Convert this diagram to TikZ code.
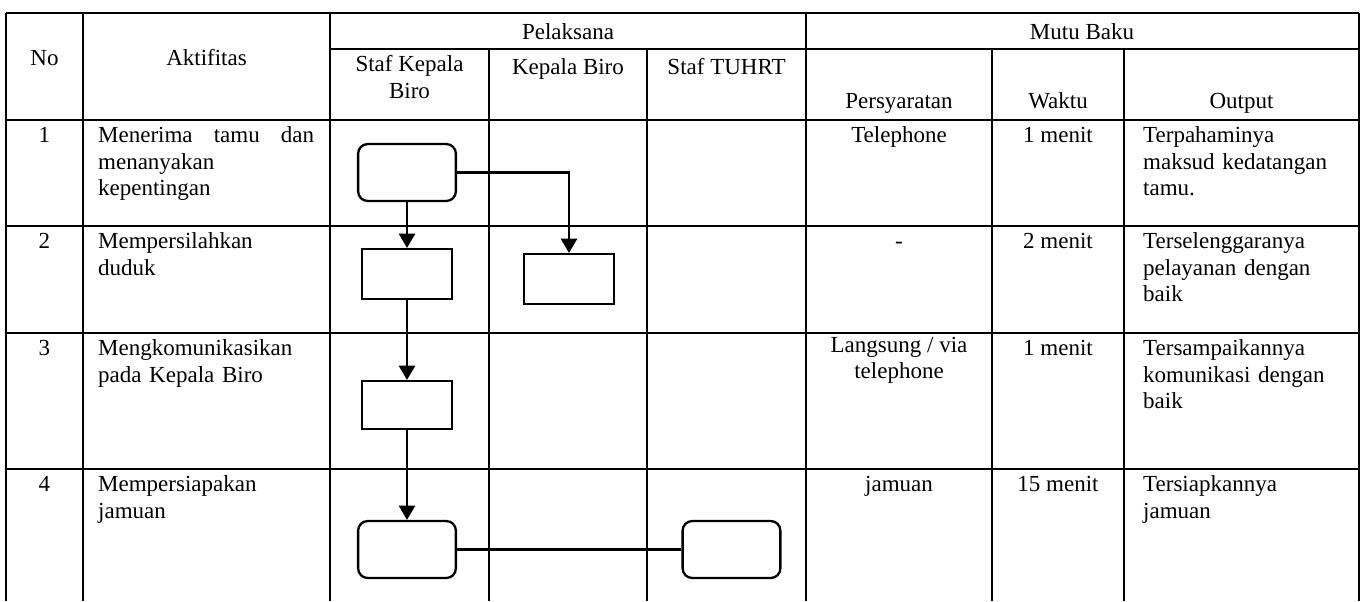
\documentclass[tikz,border=0pt]{standalone}
\usepackage{fontspec}
\setmainfont{Liberation Serif}
\usetikzlibrary{arrows.meta}

\begin{document}
\begin{tikzpicture}[x=0.5217pt,y=-0.5217pt,>={Triangle[length=7.5pt,width=8.5pt]},
    line width=1.2pt,font=\fontsize{12}{13.8}\selectfont,
    term node/.style={draw,rounded corners=5pt,minimum width=51pt,minimum height=29.7pt,inner sep=0pt},
    proc node/.style={draw,minimum width=47pt,minimum height=26pt,inner sep=0pt},
    grid line/.style={line width=1.1pt},
    ctext/.style={anchor=north,inner sep=0pt,align=center,execute at begin node=\strut},
    ltext/.style={anchor=north west,inner sep=0pt,align=left,text width=112.7pt,execute at begin node=\strut}]

\useasboundingbox (0,0) rectangle (1361,601);

% table
\foreach \x in {6,83,330,806,1359} \draw[grid line] (\x,13) -- (\x,601);
\foreach \x in {489,647,992,1124} \draw[grid line] (\x,49) -- (\x,601);
\draw[grid line] (6,13) -- (1359,13);
\draw[grid line] (330,49) -- (1359,49);
\foreach \y in {120,226,333,469} \draw[grid line] (6,\y) -- (1359,\y);

% header
\node[ctext] (hNo)     at (44.5,45.5)  {No};
\node[ctext] (hAkt)    at (206.5,45.5) {Aktifitas};
\node[ctext] (hPel)    at (568,20)     {Pelaksana};
\node[ctext] (hMutu)   at (1082,20)    {Mutu Baku};
\node[ctext] (hStaf)   at (409.5,54.5) {Staf Kepala\\Biro};
\node[ctext] (hKabiro) at (568,54.5)   {Kepala Biro};
\node[ctext] (hTuhrt)  at (726.5,54.5) {Staf TUHRT};
\node[ctext] (hSyarat) at (899,88.5)   {Persyaratan};
\node[ctext] (hWaktu)  at (1058,88.5)  {Waktu};
\node[ctext] (hOutput) at (1241.5,88.5){Output};

% rows
\node[ctext] (n1) at (44.5,123) {1};
\node[ctext] (n2) at (44.5,229) {2};
\node[ctext] (n3) at (44.5,336) {3};
\node[ctext] (n4) at (44.5,472) {4};

\node[ltext] (a1) at (97,123) {\hbox to \hsize{Menerima\hfill tamu\hfill dan}\\menanyakan\\kepentingan};
\node[ltext] (a2) at (97,229) {Mempersilahkan\\duduk};
\node[ltext] (a3) at (97,336) {Mengkomunikasikan\\pada Kepala Biro};
\node[ltext] (a4) at (97,472) {Mempersiapakan\\jamuan};

\node[ctext] (p1) at (899,123) {Telephone};
\node[ctext] (p2) at (899,229) {-};
\node[ctext] (p3) at (899,336) {Langsung / via\\telephone};
\node[ctext] (p4) at (899,472) {jamuan};

\node[ctext] (w1) at (1058,123) {1 menit};
\node[ctext] (w2) at (1058,229) {2 menit};
\node[ctext] (w3) at (1058,336) {1 menit};
\node[ctext] (w4) at (1058,472) {15 menit};

\node[ltext] (o1) at (1142,123) {Terpahaminya\\maksud kedatangan\\tamu.};
\node[ltext] (o2) at (1142,229) {Terselenggaranya\\pelayanan dengan\\baik};
\node[ltext] (o3) at (1142,336) {Tersampaikannya\\komunikasi dengan\\baik};
\node[ltext] (o4) at (1142,472) {Tersiapkannya\\jamuan};

% flow
\node[term node] (s1) at (407,172.5) {};
\node[proc node] (s2) at (407,274)   {};
\node[proc node] (k2) at (569,279)   {};
\node[proc node,minimum height=25pt] (s3) at (407,405) {};
\node[term node] (s4) at (407,549.5) {};
\node[term node] (t4) at (731.5,549.5) {};

\path[->]
(s1) edge (s2)
(s2) edge (s3)
(s3) edge (s4);
\draw[->] (s1.east) -| (k2.north);
\draw (s4) -- (t4);
\end{tikzpicture}
\end{document}
